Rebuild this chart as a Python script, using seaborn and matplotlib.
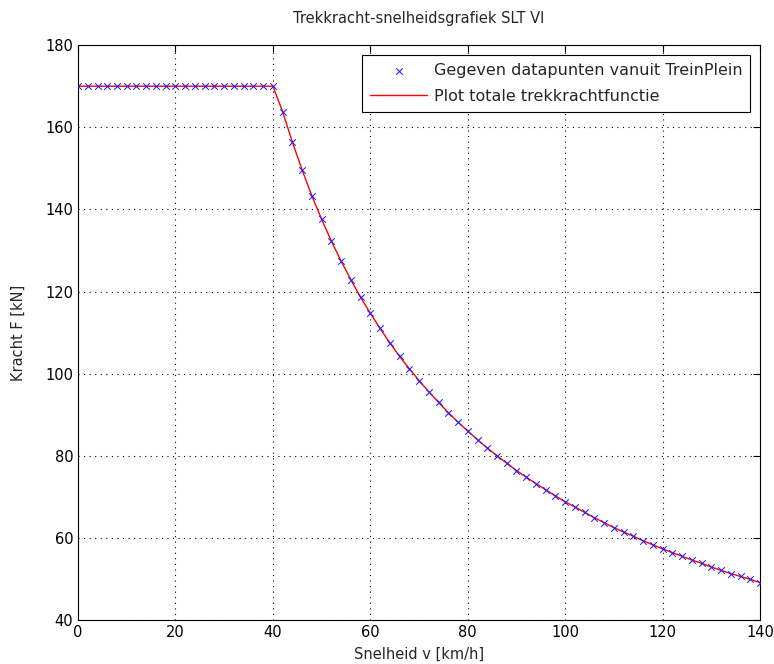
import numpy as np
import pandas as pd
import matplotlib
matplotlib.use("Agg")
import matplotlib.pyplot as plt
import seaborn as sns

# snelheid [km/h] en trekkracht [kN]
snelheid = list(range(0, 141, 2))
kracht = [170.0] * 21 + [
    163.8, 156.4, 149.6, 143.3, 137.6, 132.3, 127.4, 122.9, 118.6, 114.7,
    111.0, 107.5, 104.2, 101.2, 98.3, 95.6, 93.0, 90.5, 88.2, 86.0,
    83.9, 81.9, 80.0, 78.2, 76.4, 74.8, 73.2, 71.7, 70.2, 68.8,
    67.5, 66.2, 64.9, 63.7, 62.5, 61.4, 60.4, 59.3, 58.3, 57.3,
    56.4, 55.5, 54.6, 53.8, 52.9, 52.1, 51.3, 50.6, 49.9, 49.1,
]
xticks = [0, 20, 40, 60, 80, 100, 120, 140]
yticks = [40, 60, 80, 100, 120, 140, 160, 180]

df = pd.DataFrame({"v": snelheid, "F": kracht})

sns.set_style("white")
plt.rcParams["font.family"] = ["DejaVu Sans"]

fig = plt.figure(figsize=(7.74, 6.64), dpi=100)
ax = fig.add_axes([0.1008, 0.0663, 0.8812, 0.8657])

sns.scatterplot(data=df, x="v", y="F", ax=ax, marker="x", color="#2020ff",
                s=22, linewidth=0.75, label="Gegeven datapunten vanuit TreinPlein",
                zorder=3)
sns.lineplot(data=df, x="v", y="F", ax=ax, color="#ff0000", linewidth=1.0,
             label="Plot totale trekkrachtfunctie", zorder=2)

ax.set_xlim(0, 140)
ax.set_ylim(40, 180)
ax.set_xticks(xticks)
ax.set_yticks(yticks)
ax.grid(True, color="black", linestyle=(0, (1, 4)), linewidth=0.8)
ax.tick_params(direction="in", length=5, top=True, right=True,
               labelsize=10.5, colors="black", width=0.8)
for sp in ax.spines.values():
    sp.set_visible(True)
    sp.set_color("black")
    sp.set_linewidth(0.8)

ax.set_xlabel("Snelheid v [km/h]", fontsize=10.5, labelpad=5)
ax.set_ylabel("Kracht F [kN]", fontsize=10.5, labelpad=14)
ax.set_title("Trekkracht-snelheidsgrafiek SLT VI", fontsize=10.5, pad=16)

leg = ax.legend(loc="upper right", fontsize=11.5, frameon=True, fancybox=False,
                edgecolor="black", framealpha=1, borderaxespad=0.6,
                handlelength=3.6, handletextpad=0.4, borderpad=0.5,
                labelspacing=0.7)
leg.get_frame().set_linewidth(0.8)

fig.savefig("out.png", dpi=100)
